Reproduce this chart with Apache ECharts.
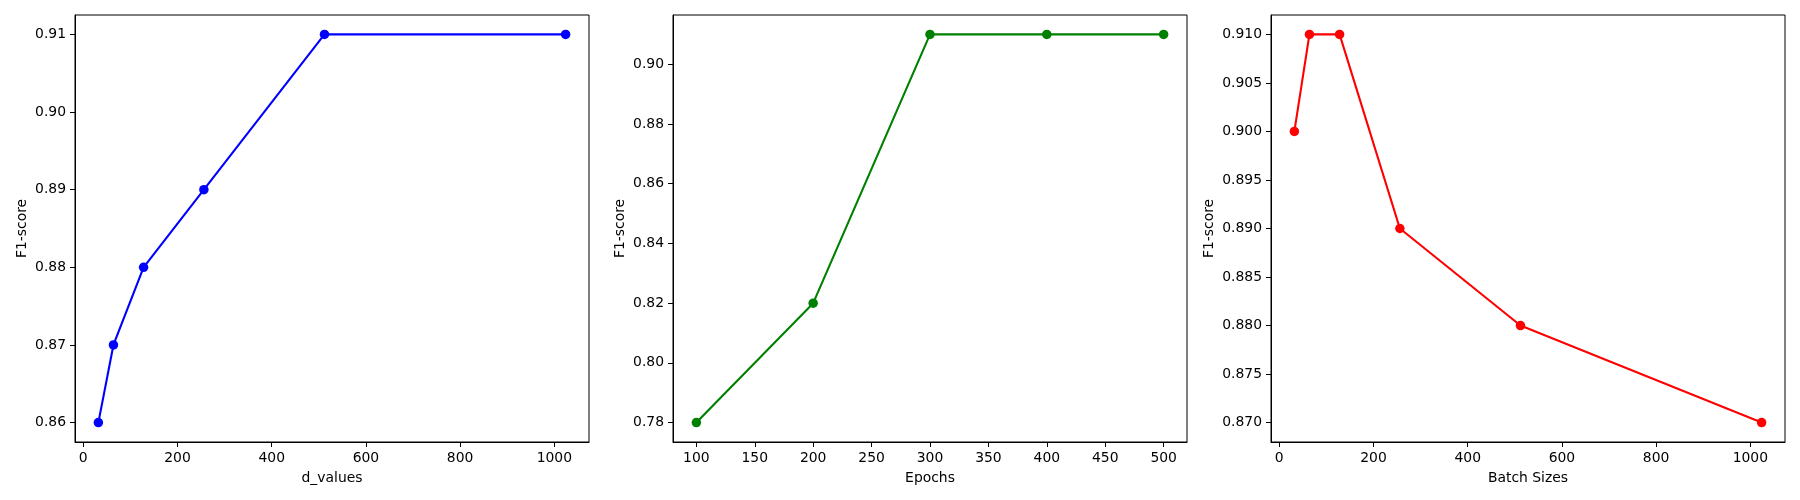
<!DOCTYPE html>
<html>
<head>
<meta charset="utf-8">
<script src="https://cdn.jsdelivr.net/npm/echarts@6/dist/echarts.min.js"></script>
<style>
html,body{margin:0;padding:0;background:#fff;}
#c{width:1800px;height:500px;}
</style>
</head>
<body>
<div id="c"></div>
<script>
// ---- data ----
const dValues = [32, 64, 128, 256, 512, 1024];
const dScores = [0.86, 0.87, 0.88, 0.89, 0.91, 0.91];

const epochs = [100, 200, 300, 400, 500];
const epochScores = [0.78, 0.82, 0.91, 0.91, 0.91];

const batchSizes = [32, 64, 128, 256, 512, 1024];
const batchScores = [0.90, 0.91, 0.91, 0.89, 0.88, 0.87];

const xTicks1 = [0, 200, 400, 600, 800, 1000];
const yTicks1 = [0.86, 0.87, 0.88, 0.89, 0.90, 0.91];
const xTicks2 = [100, 150, 200, 250, 300, 350, 400, 450, 500];
const yTicks2 = [0.78, 0.80, 0.82, 0.84, 0.86, 0.88, 0.90];
const xTicks3 = [0, 200, 400, 600, 800, 1000];
const yTicks3 = [0.870, 0.875, 0.880, 0.885, 0.890, 0.895, 0.900, 0.905, 0.910];

const xNames = ['d_values', 'Epochs', 'Batch Sizes'];
const yName = 'F1-score';

// ---- helpers ----
function pad(arr, frac) {
  const mn = Math.min(...arr), mx = Math.max(...arr);
  const d = (mx - mn) * frac;
  return [mn - d, mx + d];
}
const FONT = 'DejaVu Sans';
const FS = 13.9;

const panels = [
  {x: dValues, y: dScores, xt: xTicks1, yt: yTicks1, dec: 2, color: '#0000ff', left: 75, yGap: 46},
  {x: epochs, y: epochScores, xt: xTicks2, yt: yTicks2, dec: 2, color: '#008000', left: 673, yGap: 46},
  {x: batchSizes, y: batchScores, xt: xTicks3, yt: yTicks3, dec: 3, color: '#ff0000', left: 1271, yGap: 55}
];

const grids = [], xAxes = [], yAxes = [], series = [];
panels.forEach((p, i) => {
  grids.push({left: p.left, top: 15, width: 514, height: 427, show: true,
    borderColor: '#000', borderWidth: 1, backgroundColor: 'transparent',
    containLabel: false, outerBoundsMode: 'none'});
  const xr = pad(p.x, 0.05), yr = pad(p.y, 0.05);
  xAxes.push({type: 'value', gridIndex: i, min: xr[0], max: xr[1],
    name: xNames[i], nameLocation: 'middle', nameGap: 29,
    nameTextStyle: {color: '#000', fontFamily: FONT, fontSize: FS},
    axisLine: {show: true, onZero: false, lineStyle: {color: '#000', width: 1}},
    axisTick: {show: true, length: 5, inside: false, lineStyle: {color: '#000', width: 1}, customValues: p.xt},
    axisLabel: {show: true, margin: 9, color: '#000', fontFamily: FONT, fontSize: FS, customValues: p.xt,
      formatter: v => String(v)},
    splitLine: {show: false}, minorTick: {show: false}});
  yAxes.push({type: 'value', gridIndex: i, min: yr[0], max: yr[1],
    name: yName, nameLocation: 'middle', nameGap: p.yGap, nameRotate: 90,
    nameTextStyle: {color: '#000', fontFamily: FONT, fontSize: FS},
    axisLine: {show: true, onZero: false, lineStyle: {color: '#000', width: 1}},
    axisTick: {show: true, length: 5, inside: false, lineStyle: {color: '#000', width: 1}, customValues: p.yt},
    axisLabel: {show: true, margin: 9, color: '#000', fontFamily: FONT, fontSize: FS, customValues: p.yt,
      formatter: v => Number(v).toFixed(p.dec)},
    splitLine: {show: false}, minorTick: {show: false}});
  series.push({type: 'line', xAxisIndex: i, yAxisIndex: i,
    data: p.x.map((v, k) => [v, p.y[k]]),
    symbol: 'circle', symbolSize: 9.5, showSymbol: true,
    lineStyle: {color: p.color, width: 2.1},
    itemStyle: {color: p.color, borderWidth: 0},
    emphasis: {disabled: true}, animation: false});
});

const chart = echarts.init(document.getElementById('c'), null, {renderer: 'canvas'});
chart.setOption({
  animation: false,
  backgroundColor: '#fff',
  textStyle: {fontFamily: FONT},
  grid: grids, xAxis: xAxes, yAxis: yAxes, series: series
});
</script>
</body>
</html>
